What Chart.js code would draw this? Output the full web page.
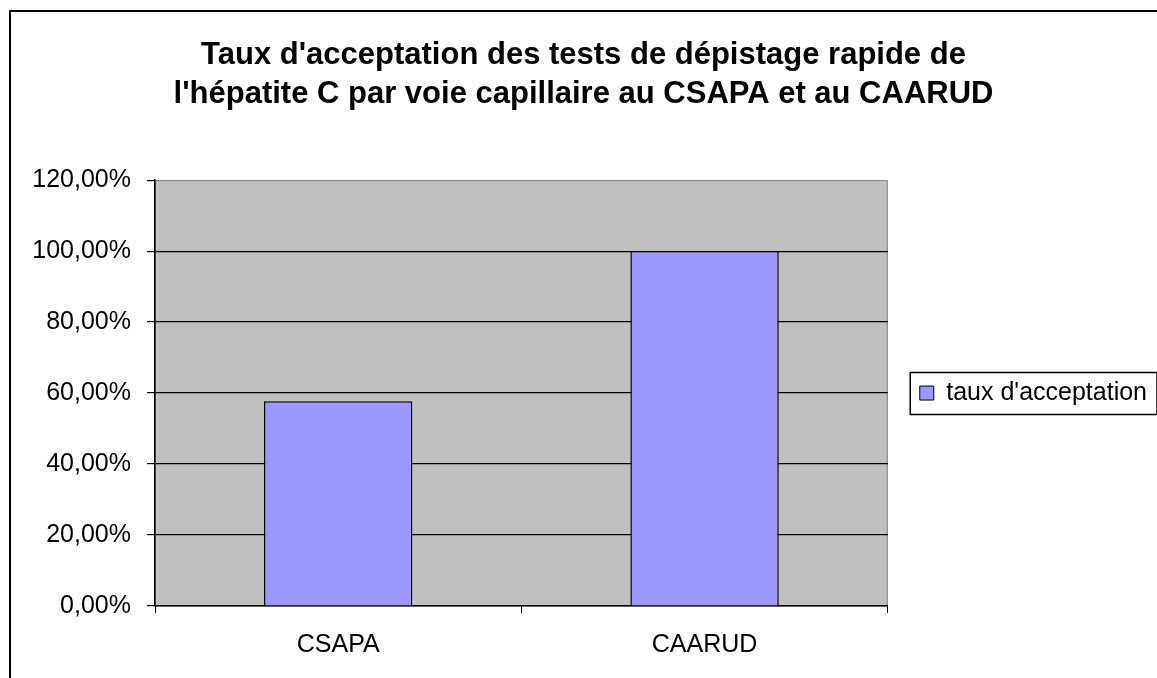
<!DOCTYPE html>
<html>
<head>
<meta charset="utf-8">
<style>
  html, body { margin: 0; padding: 0; background: #fff; }
  #wrap { width: 1157px; height: 678px; }
</style>
<script src="https://cdn.jsdelivr.net/npm/chart.js@4.4.0/dist/chart.umd.min.js"></script>
</head>
<body>
<div id="wrap"><canvas id="c" width="1157" height="678"></canvas></div>
<script>
const titleLines = ["Taux d'acceptation des tests de dépistage rapide de", "l'hépatite C par voie capillaire au CSAPA et au CAARUD"];
const categories = ["CSAPA", "CAARUD"];
const seriesName = "taux d'acceptation";
const acceptanceRates = [57.7, 100.0];
const yTicks = [0, 20, 40, 60, 80, 100, 120];

const FONT = "'Liberation Sans', Arial, sans-serif";

const framePlugin = {
  id: 'frame',
  beforeDraw(chart) {
    const ctx = chart.ctx, a = chart.chartArea;
    ctx.save();
    ctx.fillStyle = '#fff';
    ctx.fillRect(0, 0, chart.width, chart.height);
    ctx.strokeStyle = '#000';
    ctx.lineWidth = 2;
    ctx.beginPath();
    ctx.moveTo(10, chart.height);
    ctx.lineTo(10, 11);
    ctx.lineTo(chart.width, 11);
    ctx.stroke();
    ctx.fillStyle = '#C0C0C0';
    ctx.fillRect(a.left, a.top, a.right - a.left, a.bottom - a.top);
    ctx.strokeStyle = '#808080';
    ctx.lineWidth = 1;
    ctx.strokeRect(a.left + 0.5, a.top + 0.5, a.right - a.left - 1, a.bottom - a.top - 1);
    ctx.restore();
  },
  afterDraw(chart) {
    const lg = chart.legend;
    if (!lg || !lg.legendHitBoxes || !lg.legendHitBoxes.length) return;
    const hb = lg.legendHitBoxes[0];
    const ctx = chart.ctx;
    ctx.save();
    ctx.strokeStyle = '#000';
    ctx.lineWidth = 1.5;
    const cy = hb.top + hb.height / 2;
    const l = hb.left - 10;
    ctx.strokeRect(l + 0.5, Math.round(cy - 21) + 0.5, chart.width - l - 0.5, 42);
    ctx.restore();
  }
};

new Chart(document.getElementById('c'), {
  type: 'bar',
  data: {
    labels: categories,
    datasets: [{
      label: seriesName,
      data: acceptanceRates,
      backgroundColor: '#9999FF',
      borderColor: '#000',
      borderWidth: 1.5,
      barPercentage: 0.405,
      categoryPercentage: 1.0
    }]
  },
  options: {
    responsive: false,
    animation: false,
    devicePixelRatio: 1,
    layout: { padding: { top: 0, left: 10, right: 0, bottom: 0 } },
    plugins: {
      tooltip: { enabled: false },
      title: {
        display: true,
        text: titleLines,
        color: '#000',
        font: { family: FONT, size: 31, weight: 'bold', lineHeight: 1.26 },
        padding: { top: 36, bottom: 66 }
      },
      legend: {
        display: true,
        position: 'right',
        fullSize: false,
        labels: {
          color: '#000',
          font: { family: FONT, size: 25 },
          boxWidth: 14,
          boxHeight: 14,
          padding: 32,
          generateLabels(chart) {
            const ds = chart.data.datasets[0];
            return [{ text: ds.label, fillStyle: ds.backgroundColor, strokeStyle: '#000', lineWidth: 1, datasetIndex: 0 }];
          }
        }
      }
    },
    scales: {
      x: {
        offset: true,
        grid: { display: true, drawOnChartArea: false, drawTicks: true, tickLength: 7, color: '#000', offset: true },
        border: { display: true, color: '#000', width: 1.5 },
        ticks: { color: '#000', font: { family: FONT, size: 25 }, padding: 17, maxRotation: 0 },
        afterFit(s) { s.height = 72; }
      },
      y: {
        min: 0,
        max: 120,
        afterBuildTicks(s) { s.ticks = yTicks.map(v => ({ value: v })); },
        grid: {
          color: c => (c.tick && c.tick.value === 120) ? 'rgba(0,0,0,0)' : '#000',
          tickColor: '#000',
          tickLength: 8,
          lineWidth: 1.2
        },
        border: { display: true, color: '#000', width: 1.5 },
        ticks: {
          color: '#000',
          font: { family: FONT, size: 25 },
          padding: 16,
          callback: v => v.toFixed(2).replace('.', ',') + '%'
        },
        afterFit(s) { s.width = 145; }
      }
    }
  },
  plugins: [framePlugin]
});
</script>
</body>
</html>
